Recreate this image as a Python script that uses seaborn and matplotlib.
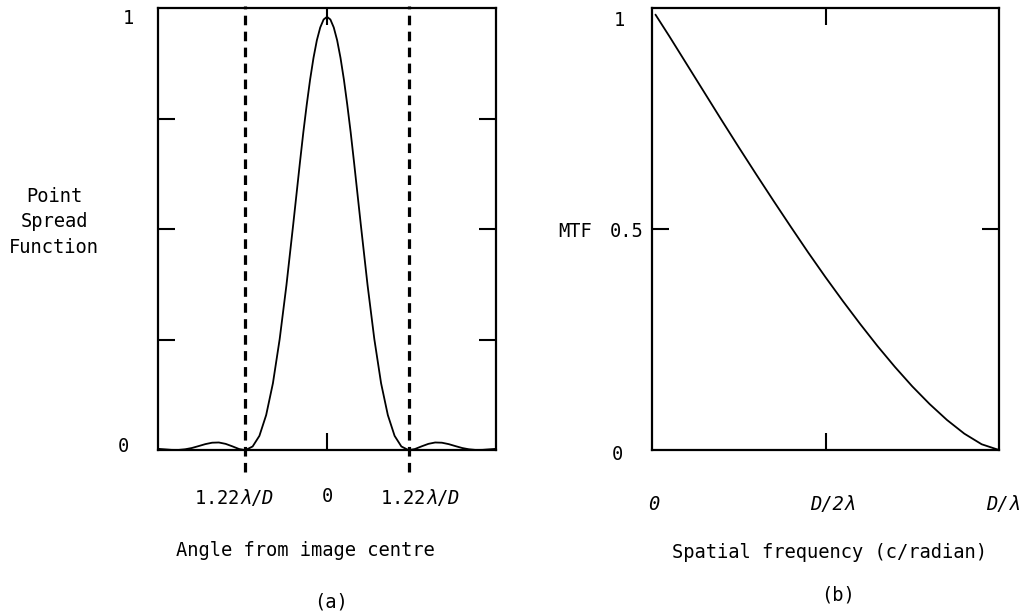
import matplotlib
matplotlib.use("Agg")
import matplotlib.pyplot as plt
import seaborn as sns
import numpy as np
import pandas as pd

# ---- data ----
# (a) point spread function, half profile (angle in units of lambda/D), mirrored
psf_angle_half = [0.0, 0.05, 0.1, 0.15, 0.2, 0.25, 0.3, 0.35, 0.4, 0.5, 0.6,
                  0.7, 0.8, 0.9, 1.0, 1.1, 1.2, 1.22, 1.3, 1.4, 1.5, 1.6, 1.7,
                  1.8, 1.9, 2.0, 2.1, 2.2, 2.3, 2.4, 2.5]
psf_value_half = [0.980, 0.974, 0.956, 0.927, 0.887, 0.838, 0.781, 0.719,
                  0.651, 0.510, 0.373, 0.251, 0.151, 0.079, 0.032, 0.008,
                  0.0002, 0.0, 0.0022, 0.0083, 0.0139, 0.0170, 0.0165, 0.0133,
                  0.0088, 0.0045, 0.0016, 0.0001, 0.0003, 0.0015, 0.0026]
first_zero = 1.22
psf_xlabels = ["1.22$\\lambda/D$", "0", "1.22$\\lambda/D$"]

# (b) MTF vs spatial frequency (fraction of cut-off D/lambda)
mtf_freq = [0.01, 0.05, 0.10, 0.15, 0.20, 0.25, 0.30, 0.35, 0.40, 0.45, 0.50,
            0.55, 0.60, 0.65, 0.70, 0.75, 0.80, 0.85, 0.90, 0.95, 1.00]
mtf_value = [0.985, 0.936, 0.873, 0.810, 0.747, 0.685, 0.624, 0.564, 0.505,
             0.447, 0.391, 0.337, 0.285, 0.235, 0.188, 0.144, 0.104, 0.068,
             0.037, 0.013, 0.0]
mtf_xlabels = ["0", "D/2λ", "D/λ"]

psf_angle = [-a for a in psf_angle_half[::-1]] + psf_angle_half[1:]
psf_value = psf_value_half[::-1] + psf_value_half[1:]
psf_df = pd.DataFrame({"angle": psf_angle, "psf": psf_value})
mtf_df = pd.DataFrame({"freq": mtf_freq, "mtf": mtf_value})

# ---- style ----
sns.set_theme(style="white")
plt.rcParams["font.family"] = ["DejaVu Sans Mono", "DejaVu Sans"]
plt.rcParams["mathtext.fontset"] = "custom"
plt.rcParams["mathtext.rm"] = "DejaVu Sans Mono"
plt.rcParams["mathtext.it"] = "DejaVu Sans Mono:oblique"
FS = 13.5

W, H = 1027, 614
fig = plt.figure(figsize=(W / 100, H / 100), dpi=100)
fig.patch.set_facecolor("white")


def ax_rect(x0, x1, y0, y1):
    return [x0 / W, 1 - y1 / H, (x1 - x0) / W, (y1 - y0) / H]


def ftext(px, py, s, **kw):
    fig.text(px / W, 1 - py / H, s, ha="center", va="center", fontsize=FS,
             color="black", **kw)


axL = fig.add_axes(ax_rect(158, 496, 8, 450))
axR = fig.add_axes(ax_rect(652, 999, 8, 450))

for ax in (axL, axR):
    ax.set_facecolor("white")
    for sp in ax.spines.values():
        sp.set_visible(True)
        sp.set_color("black")
        sp.set_linewidth(1.6)
    ax.tick_params(which="both", direction="in", length=12, width=1.5,
                   color="black", top=True, right=True, bottom=True, left=True,
                   labelbottom=False, labelleft=False)

# ---- panel (a) ----
sns.lineplot(data=psf_df, x="angle", y="psf", ax=axL, color="black",
             linewidth=1.3, estimator=None)
axL.set_xlim(-2.5, 2.5)
axL.set_ylim(0, 1)
axL.set_xticks([0])
axL.set_yticks([0.25, 0.5, 0.75])
axL.set_xlabel("")
axL.set_ylabel("")
for xz in (-first_zero, first_zero):
    axL.plot([xz, xz], [-0.05, 1.005], color="black", lw=2.3,
             dashes=(3.0, 2.0), clip_on=False, zorder=3)

ftext(128, 18, "1")
ftext(123, 447, "0")
ftext(54, 222, "Point\nSpread\nFunction", linespacing=1.45,
      multialignment="center")
ftext(234, 497, psf_xlabels[0])
ftext(327, 497, psf_xlabels[1])
ftext(420, 497, psf_xlabels[2])
ftext(305, 551, "Angle from image centre")
ftext(331, 602, "(a)")

# ---- panel (b) ----
sns.lineplot(data=mtf_df, x="freq", y="mtf", ax=axR, color="black",
             linewidth=1.3, estimator=None)
axR.set_xlim(0, 1)
axR.set_ylim(0, 1)
axR.set_xticks([0.5])
axR.set_yticks([0.5])
axR.set_xlabel("")
axR.set_ylabel("")

ftext(619, 20, "1")
ftext(575, 232, "MTF")
ftext(627, 232, "0.5")
ftext(617, 454, "0")
ftext(654, 505, mtf_xlabels[0], fontstyle="oblique")
ftext(833, 505, mtf_xlabels[1], fontstyle="oblique")
ftext(1003, 505, mtf_xlabels[2], fontstyle="oblique")
ftext(830, 552, "Spatial frequency (c/radian)")
ftext(838, 595, "(b)")

fig.savefig("out.png", dpi=100, facecolor="white")
